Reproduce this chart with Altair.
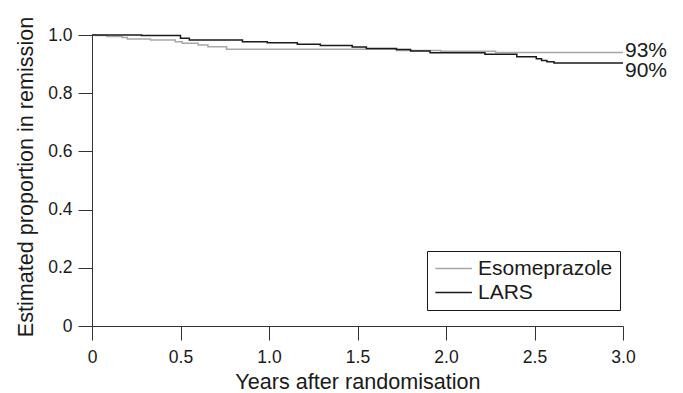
import altair as alt
import pandas as pd

# Kaplan-Meier style step data
eso_t = [0, 0.02, 0.085, 0.17, 0.20, 0.33, 0.47, 0.51, 0.60, 0.655, 0.76, 1.72, 1.97, 2.28, 3.0]
eso_s = [1.0, 0.998, 0.995, 0.991, 0.986, 0.983, 0.977, 0.972, 0.966, 0.960, 0.951, 0.947, 0.944, 0.940, 0.940]

lars_t = [0, 0.28, 0.50, 0.55, 0.85, 0.99, 1.16, 1.29, 1.47, 1.55, 1.72, 1.80, 1.91, 2.22, 2.40,
          2.51, 2.54, 2.57, 2.61, 3.0]
lars_s = [1.0, 0.998, 0.989, 0.983, 0.977, 0.973, 0.968, 0.964, 0.959, 0.954, 0.950, 0.945, 0.939,
          0.934, 0.925, 0.918, 0.912, 0.908, 0.904, 0.904]

groups = ["Esomeprazole", "LARS"]
colors = ["#a8a8a8", "#1a1a1a"]
end_labels = ["93%", "90%"]

x_ticks = [0, 0.5, 1.0, 1.5, 2.0, 2.5, 3.0]
y_ticks = [0, 0.2, 0.4, 0.6, 0.8, 1.0]

rows = []
for t, s in zip(eso_t, eso_s):
    rows.append({"t": t, "s": s, "g": groups[0]})
for t, s in zip(lars_t, lars_s):
    rows.append({"t": t, "s": s, "g": groups[1]})
df = pd.DataFrame(rows)

lab = pd.DataFrame({
    "t": [eso_t[-1], lars_t[-1]],
    "s": [eso_s[-1], lars_s[-1]],
    "label": end_labels,
    "g": groups,
})

FONT = "Liberation Sans"
TXT = "#1a1a1a"
LBL = "datum.value == 0 ? '0' : format(datum.value, '.1f')"

x = alt.X("t:Q",
          scale=alt.Scale(domain=[0, 3], nice=False, zero=False),
          axis=alt.Axis(values=x_ticks, title="Years after randomisation",
                        labelExpr=LBL, labelFlush=False,
                        tickSize=14, labelPadding=8, labelFontSize=17.5,
                        titleFontSize=21.6, titleY=62, titleBaseline="alphabetic",
                        grid=False))
y = alt.Y("s:Q",
          scale=alt.Scale(domain=[0, 1], nice=False),
          axis=alt.Axis(values=y_ticks, title="Estimated proportion in remission",
                        labelExpr=LBL, labelFlush=False,
                        tickSize=14, labelPadding=6, labelFontSize=17.5,
                        titleFontSize=21.6, titleAngle=270, titleX=-59.5, titleY=141.5,
                        titleAlign="center", titleBaseline="alphabetic",
                        grid=False))

lines = alt.Chart(df).mark_line(interpolate="step-after", strokeWidth=1.5).encode(
    x=x, y=y,
    color=alt.Color("g:N",
                    scale=alt.Scale(domain=groups, range=colors),
                    legend=alt.Legend(title=None, orient="none", legendX=335, legendY=216,
                                      strokeColor="#1a1a1a", padding=7,
                                      symbolType="M-1,0H3", symbolSize=335,
                                      symbolStrokeWidth=1.5, labelOffset=23,
                                      labelFontSize=21, labelColor=TXT,
                                      rowPadding=2)),
    detail="g:N",
    order="t:Q",
)

t1 = alt.Chart(lab).transform_filter(alt.datum.g == groups[0]).mark_text(
    align="left", baseline="alphabetic", dx=2, dy=4.2, fontSize=21, color=TXT, font=FONT
).encode(x="t:Q", y="s:Q", text="label:N")
t2 = alt.Chart(lab).transform_filter(alt.datum.g == groups[1]).mark_text(
    align="left", baseline="alphabetic", dx=2, dy=13.8, fontSize=21, color=TXT, font=FONT
).encode(x="t:Q", y="s:Q", text="label:N")

chart = alt.layer(lines, t1, t2).properties(
    width=531, height=291,
    autosize=alt.AutoSizeParams(type="none"),
    padding={"left": 84, "top": 27, "right": 52, "bottom": 72},
).configure(font=FONT).configure_view(stroke=None).configure_axis(
    domainColor="#333333", tickColor="#333333", labelColor=TXT, titleColor=TXT,
    titleFontWeight="normal", labelFont=FONT, titleFont=FONT, domainWidth=1, tickWidth=1
).configure_legend(labelFont=FONT)

chart.save("out.html", embed_options={"renderer": "svg", "actions": False})
